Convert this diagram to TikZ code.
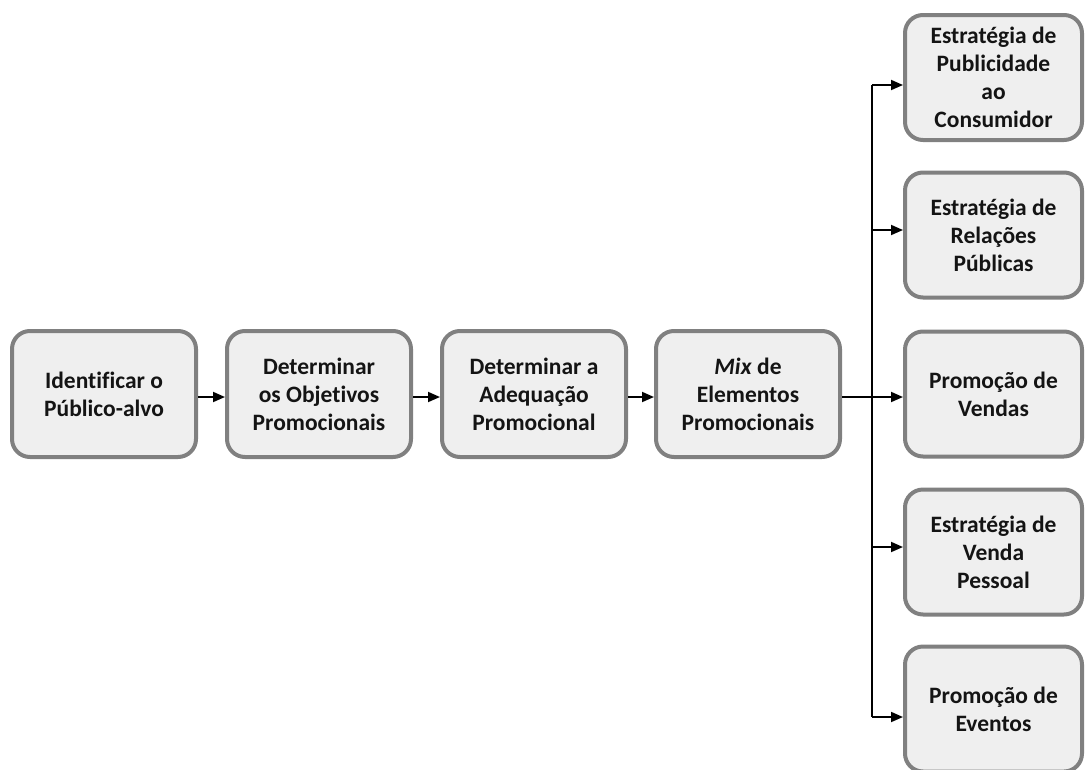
\documentclass[tikz,border=0pt]{standalone}
\usepackage{fontspec}
\setmainfont[Ligatures=NoCommon]{Carlito}
\usetikzlibrary{arrows.meta}
\definecolor{boxfill}{HTML}{EFEFEF}
\definecolor{boxline}{HTML}{808080}
\definecolor{txt}{HTML}{141414}
\tikzset{
  stage/.style={draw=boxline, fill=boxfill, line width=4pt, rounded corners=18pt,
    minimum width=184pt, minimum height=126pt, align=center, text=txt,
    font=\fontsize{23.5}{28}\selectfont\bfseries, inner sep=0pt},
  outcome/.style={stage, minimum width=177pt, minimum height=125pt},
  link/.style={line width=1.8pt, -{Triangle[length=12pt,width=10pt]}},
  bus/.style={line width=1.8pt}
}
\begin{document}
\begin{tikzpicture}[x=1pt,y=-1pt]
\useasboundingbox (0,0) rectangle (1085,769);
% main sequence
\node[stage] (s1) at (104,394) {Identificar o\\Público-alvo};
\node[stage] (s2) at (319,394) {Determinar\\os Objetivos\\Promocionais};
\node[stage] (s3) at (534,394) {Determinar a\\Adequação\\Promocional};
\node[stage] (s4) at (748,394) {\textit{Mix} de\\Elementos\\Promocionais};
% promotional elements
\node[outcome] (pa) at (993.5,77.5) {Estratégia de\\Publicidade\\ao\\Consumidor};
\node[outcome] (pb) at (993.5,235) {Estratégia de\\Relações\\Públicas};
\node[outcome] (pc) at (993.5,394) {Promoção de\\Vendas};
\node[outcome] (pd) at (993.5,552) {Estratégia de\\Venda\\Pessoal};
\node[outcome] (pe) at (993.5,709) {Promoção de\\Eventos};
% branching point
\coordinate (hub) at (872,397);
\coordinate (top) at (872,85);
\coordinate (bot) at (872,717);
% connectors
\draw[link] ([yshift=-3pt]s1.east) -- ([yshift=-3pt]s2.west);
\draw[link] ([yshift=-3pt]s2.east) -- ([yshift=-3pt]s3.west);
\draw[link] ([yshift=-3pt]s3.east) -- ([yshift=-3pt]s4.west);
\draw[bus] (top) -- (bot);
\draw[link] ([yshift=-3pt]s4.east) -- ([yshift=-3pt]pc.west);
\draw[link] (top) -- (top -| pa.west);
\draw[link] (872,230) -- (pb.west |- 0,230);
\draw[link] (872,547) -- (pd.west |- 0,547);
\draw[link] (bot) -- (bot -| pe.west);
\end{tikzpicture}
\end{document}
